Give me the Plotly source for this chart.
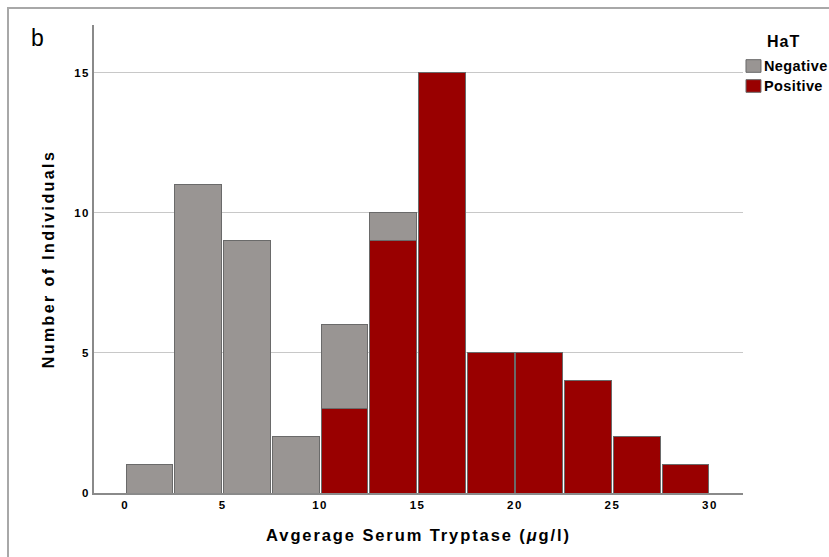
import plotly.graph_objects as go

bin_lower = [0, 2.5, 5, 7.5, 10, 12.5, 15, 17.5, 20, 22.5, 25, 27.5]
bin_width = 2.5
negative = [1, 11, 9, 2, 3, 1, 0, 0, 0, 0, 0, 0]
positive = [0, 0, 0, 0, 3, 9, 15, 5, 5, 4, 2, 1]
x_ticks = [0, 5, 10, 15, 20, 25, 30]
y_ticks = [0, 5, 10, 15]
series_names = ["Negative", "Positive"]
series_colors = ["#999593", "#990000"]

centers = [b + bin_width / 2 for b in bin_lower]
font = "Liberation Sans, Arial, sans-serif"


def spaced(t, px):
    return f'<span style="letter-spacing:{px}px">{t}</span>'


fig = go.Figure()
fig.add_trace(go.Bar(x=centers, y=positive, width=bin_width * 0.96, name="Positive",
                     marker=dict(color=series_colors[1], line=dict(color="#6a6a6a", width=1))))
fig.add_trace(go.Bar(x=centers, y=negative, width=bin_width * 0.96, name="Negative",
                     marker=dict(color=series_colors[0], line=dict(color="#6a6a6a", width=1))))

fig.update_layout(
    barmode="stack",
    width=829, height=557,
    margin=dict(l=94, r=86, t=25, b=64, autoexpand=False),
    plot_bgcolor="white", paper_bgcolor="white",
    font=dict(family=font, color="black"),
    showlegend=False,
    xaxis=dict(range=[-1.6, 31.7], tickvals=x_ticks,
               ticktext=[spaced(f"<b>{v}</b>", 1.5) for v in x_ticks],
               ticks="", showgrid=False, zeroline=False,
               showline=True, linecolor="#8a8a8a", linewidth=1.5,
               tickfont=dict(size=11.5, family=font),
               title=dict(text=spaced("<b>Avgerage Serum Tryptase (<i>μ</i>g/l)</b>", 1.9),
                          font=dict(size=16.5, family=font), standoff=20)),
    yaxis=dict(range=[0, 16.7], tickvals=y_ticks,
               ticktext=[spaced(f"<b>{v}</b>", 1.5) for v in y_ticks],
               ticks="", showgrid=True, gridcolor="#c8c8c8", gridwidth=1,
               zeroline=False, showline=True, linecolor="#8a8a8a", linewidth=1.5,
               tickfont=dict(size=11.5, family=font),
               title=dict(text=spaced("<b>Number of Individuals</b>", 2.4),
                          font=dict(size=16, family=font), standoff=16)),
)

# panel label
fig.add_annotation(text="b", xref="paper", yref="paper", x=-0.1, y=1.005, xanchor="left", yanchor="top",
                   showarrow=False, font=dict(size=23, family=font))
# outer frame
fig.add_shape(type="rect", xref="paper", yref="paper", x0=-0.1325, y0=-0.3, x1=1.3, y1=1.0363,
              line=dict(color="#a8a8a8", width=2), fillcolor="rgba(0,0,0,0)", layer="below")

# legend (drawn manually)
fig.add_annotation(text=spaced("<b>HaT</b>", 1), xref="paper", yref="paper", x=1.063, y=0.9637,
                   xanchor="center", yanchor="middle", showarrow=False, font=dict(size=16, family=font))
leg_y = [0.9124, 0.8697]
for name, color, yc in zip(series_names, series_colors, leg_y):
    fig.add_shape(type="rect", xref="paper", yref="paper", x0=1.0046, x1=1.0277,
                  y0=yc - 0.0135, y1=yc + 0.0135,
                  line=dict(color="#6a6a6a", width=1), fillcolor=color)
    fig.add_annotation(text=spaced(f"<b>{name}</b>", 0.4), xref="paper", yref="paper", x=1.029, y=yc,
                       xanchor="left", yanchor="middle", showarrow=False,
                       font=dict(size=14.5, family=font))

fig.write_html("out.html", config={"displayModeBar": False},
               post_script="document.body.style.margin='0';document.body.style.overflow='hidden';")
